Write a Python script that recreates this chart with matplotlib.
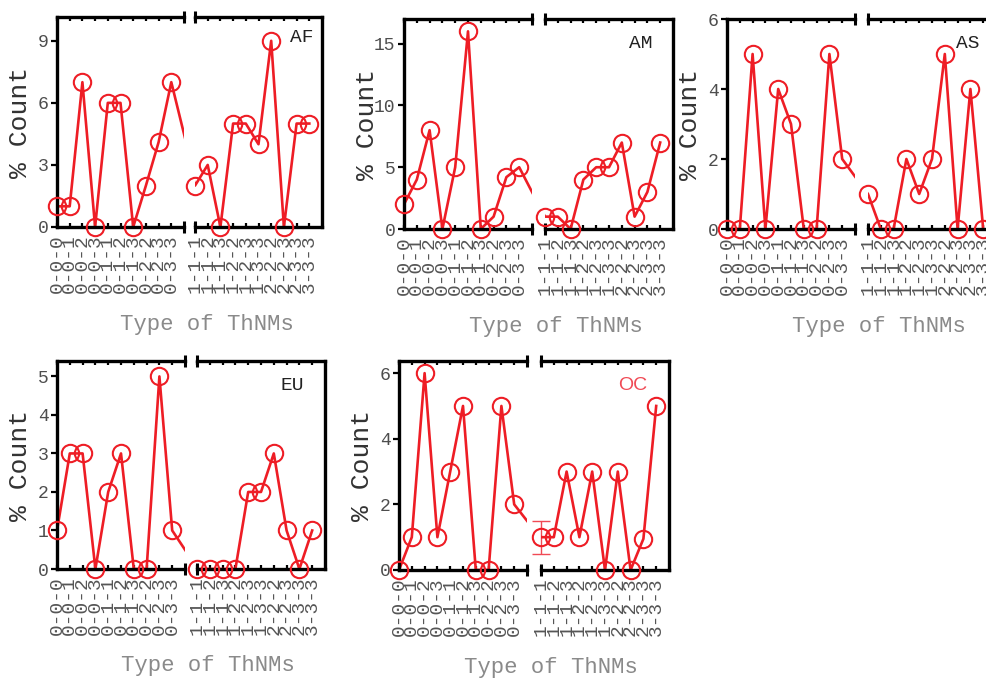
import matplotlib

matplotlib.use("Agg")
import matplotlib.pyplot as plt

# tick categories (combinations a-b-c)
left_labels = ["0-0-0", "0-0-1", "0-0-2", "0-0-3", "0-1-1",
               "0-1-2", "0-1-3", "0-2-2", "0-2-3", "0-3-3"]
right_labels = ["1-1-1", "1-1-2", "1-1-3", "1-2-2", "1-2-3",
                "1-3-3", "2-2-2", "2-2-3", "2-3-3", "3-3-3"]

regions = ["AF", "AM", "AS", "EU", "OC"]

af_left = [1, 1, 7, 0, 6, 6, 0, 2, 4.1, 7]
af_right = [2, 3, 0, 5, 5, 4, 9, 0, 5, 5]
am_left = [2, 4, 8, 0, 5, 16, 0, 1, 4.2, 5]
am_right = [1, 1, 0, 4, 5, 5, 7, 1, 3, 7]
as_left = [0, 0, 5, 0, 4, 3, 0, 0, 5, 2]
as_right = [1, 0, 0, 2, 1, 2, 5, 0, 4, 0]
eu_left = [1, 3, 3, 0, 2, 3, 0, 0, 5, 1]
eu_right = [0, 0, 0, 0, 2, 2, 3, 1, 0, 1]
oc_left = [0, 1, 6, 1, 3, 5, 0, 0, 5, 2]
oc_right = [1, 1, 3, 1, 3, 0, 3, 0, 0.95, 5]

oc_err_value = 1
oc_err = 0.5

y_ticks = {
    "AF": [0, 3, 6, 9],
    "AM": [0, 5, 10, 15],
    "AS": [0, 2, 4, 6],
    "EU": [0, 1, 2, 3, 4, 5],
    "OC": [0, 2, 4, 6],
}
y_top = {"AF": 10.15, "AM": 17.0, "AS": 6.0, "EU": 5.4, "OC": 6.37}

series = {
    "AF": (af_left, af_right),
    "AM": (am_left, am_right),
    "AS": (as_left, as_right),
    "EU": (eu_left, eu_right),
    "OC": (oc_left, oc_right),
}

# pixel layout: left-axes x0, x1, right-axes x0, x1, top, bottom
layout = {
    "AF": (57, 184, 195, 322, 17, 227),
    "AM": (404, 532, 545, 673, 19, 229),
    "AS": (727, 855, 868, 996, 19, 229),
    "EU": (57, 185, 197, 325, 361, 569),
    "OC": (399, 527, 541, 669, 361, 570),
}
label_pos = {"AF": (302, 38), "AM": (641, 43), "AS": (968, 43),
             "EU": (292, 385), "OC": (633, 386)}

W, H = 987, 679
RED = "#ee1d25"
MONO = "Liberation Mono"

fig = plt.figure(figsize=(W / 100, H / 100), dpi=100)


def rect(x0, x1, top, bottom):
    return [x0 / W, 1 - bottom / H, (x1 - x0) / W, (bottom - top) / H]


def draw_panel(name):
    lx0, lx1, rx0, rx1, top, bottom = layout[name]
    vals_l, vals_r = series[name]
    xl = list(range(len(vals_l)))
    xr = [11 + i for i in range(len(vals_r))]
    xs = xl + xr
    ys = vals_l + vals_r

    ax_l = fig.add_axes(rect(lx0, lx1, top, bottom))
    ax_r = fig.add_axes(rect(rx0, rx1, top, bottom))

    for ax, xm, ym, labels in ((ax_l, xl, vals_l, left_labels),
                               (ax_r, xr, vals_r, right_labels)):
        ax.plot(xs, ys, color=RED, lw=1.9, zorder=2)
        ax.plot(xm, ym, "o", mfc="none", mec=RED, ms=12.5, mew=1.5,
                clip_on=False, zorder=3)
        ax.set_ylim(0, y_top[name])
        ax.set_xticks(xm)
        ax.set_xticklabels(labels, rotation=90, family=MONO, fontsize=14,
                           color="#555555")
        ax.tick_params(axis="x", direction="in", top=True, length=3,
                       width=1.6, pad=5, color="black")
        for s in ax.spines.values():
            s.set_linewidth(2.4)
        ax.patch.set_alpha(0)

    ax_l.set_xlim(0, 10)
    ax_r.set_xlim(11, 21)

    ax_l.spines["right"].set_visible(False)
    ax_r.spines["left"].set_visible(False)

    ax_l.set_yticks(y_ticks[name])
    ax_l.set_yticklabels([str(t) for t in y_ticks[name]], family=MONO,
                         fontsize=13, color="#4d4d4d")
    ax_l.tick_params(axis="y", direction="out", length=4, width=1.6, pad=2)
    ax_r.tick_params(axis="y", left=False, right=False, labelleft=False)

    # break caps on the spines
    ax_l.plot([1, 1], [0, 1], "|", color="black", ms=8, mew=2.2,
              transform=ax_l.transAxes, clip_on=False)
    ax_r.plot([0, 0], [0, 1], "|", color="black", ms=8, mew=2.2,
              transform=ax_r.transAxes, clip_on=False)

    if name == "OC":
        ax_r.errorbar(xr[0], oc_err_value, yerr=oc_err, color="#f04a55",
                      lw=1.0, capsize=6.5, capthick=1.0, fmt="none",
                      clip_on=False, zorder=1)

    # axis titles
    cx = (lx0 + rx1) / 2 + 17
    fig.text(cx / W, 1 - (bottom + 97) / H, "Type of ThNMs", family=MONO,
             fontsize=16, color="#8a8a8a", ha="center", va="center")
    yl_x = lx0 - 37
    fig.text(yl_x / W, 1 - ((top + bottom) / 2) / H, "% Count", family=MONO,
             fontsize=19, color="#333333", rotation=90, ha="center",
             va="center")

    px, py = label_pos[name]
    if name == "OC":
        fig.text(px / W, 1 - py / H, name, family="Liberation Sans",
                 fontsize=14, color="#f04a55", ha="center", va="center")
    else:
        fig.text(px / W, 1 - py / H, name, family=MONO, fontsize=14,
                 color="#222222", ha="center", va="center")


for region in regions:
    draw_panel(region)

fig.savefig("out.png", dpi=100, facecolor="white")
